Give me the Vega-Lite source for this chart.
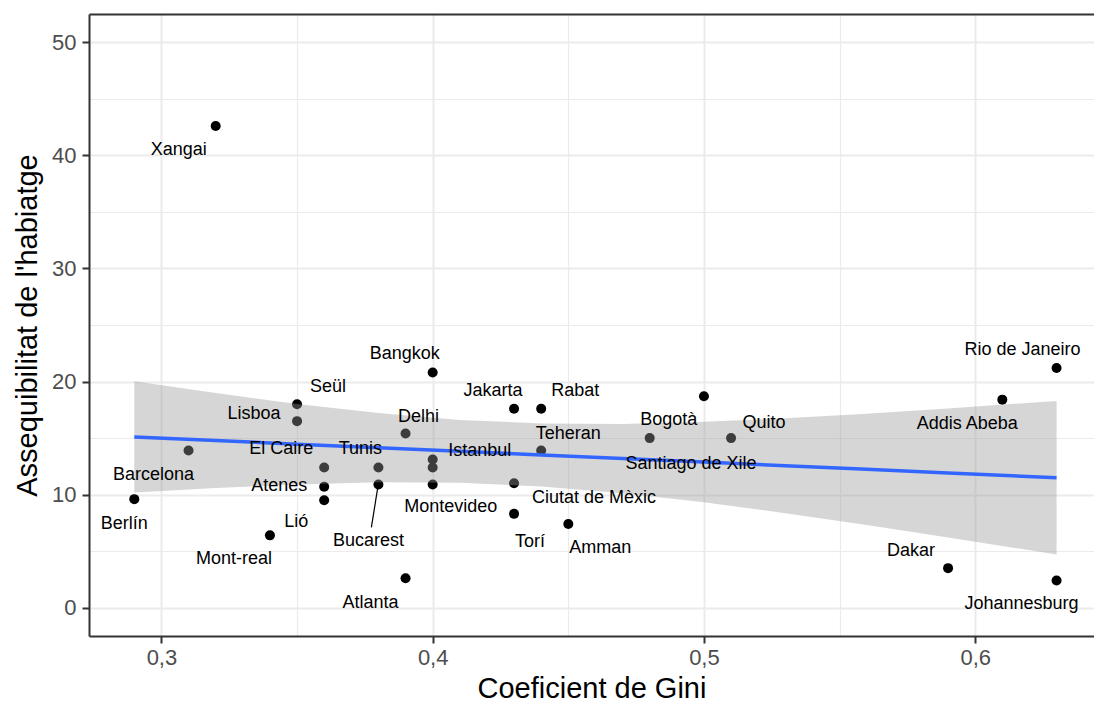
{
  "$schema": "https://vega.github.io/schema/vega-lite/v6.json",
  "width": 1005,
  "height": 622,
  "autosize": {"type": "none"},
  "padding": {"left": 89, "top": 14, "right": 0, "bottom": 75},
  "background": "white",
  "config": {
    "view": {"stroke": null},
    "text": {"font": "Liberation Sans", "fontSize": 18, "color": "#000000", "align": "center", "baseline": "middle"},
    "axis": {
      "labelFont": "Liberation Sans",
      "titleFont": "Liberation Sans",
      "titleFontWeight": "normal",
      "titleColor": "#000000",
      "labelColor": "#4D4D4D",
      "gridColor": "#EBEBEB",
      "domainColor": "#333333",
      "tickColor": "#333333"
    }
  },
  "datasets": {
    "cities": [
      {"city": "Xangai", "gini": 0.32, "hab": 42.6},
      {"city": "Berlín", "gini": 0.29, "hab": 9.6},
      {"city": "Barcelona", "gini": 0.31, "hab": 13.9},
      {"city": "Mont-real", "gini": 0.34, "hab": 6.4},
      {"city": "Seül", "gini": 0.35, "hab": 18.0},
      {"city": "Lisboa", "gini": 0.35, "hab": 16.5},
      {"city": "El Caire", "gini": 0.36, "hab": 12.4},
      {"city": "Atenes", "gini": 0.36, "hab": 10.7},
      {"city": "Lió", "gini": 0.36, "hab": 9.5},
      {"city": "Tunis", "gini": 0.38, "hab": 12.4},
      {"city": "Bucarest", "gini": 0.38, "hab": 10.9},
      {"city": "Atlanta", "gini": 0.39, "hab": 2.6},
      {"city": "Delhi", "gini": 0.39, "hab": 15.4},
      {"city": "Bangkok", "gini": 0.40, "hab": 20.8},
      {"city": "Istanbul", "gini": 0.40, "hab": 13.1},
      {"city": "", "gini": 0.40, "hab": 12.4},
      {"city": "Montevideo", "gini": 0.40, "hab": 10.9},
      {"city": "Jakarta", "gini": 0.43, "hab": 17.6},
      {"city": "Rabat", "gini": 0.44, "hab": 17.6},
      {"city": "Teheran", "gini": 0.44, "hab": 13.9},
      {"city": "Ciutat de Mèxic", "gini": 0.43, "hab": 11.0},
      {"city": "Torí", "gini": 0.43, "hab": 8.3},
      {"city": "Amman", "gini": 0.45, "hab": 7.4},
      {"city": "Bogotà", "gini": 0.48, "hab": 15.0},
      {"city": "Santiago de Xile", "gini": 0.50, "hab": 18.7},
      {"city": "Quito", "gini": 0.51, "hab": 15.0},
      {"city": "Addis Abeba", "gini": 0.61, "hab": 18.4},
      {"city": "Rio de Janeiro", "gini": 0.63, "hab": 21.2},
      {"city": "Dakar", "gini": 0.59, "hab": 3.5},
      {"city": "Johannesburg", "gini": 0.63, "hab": 2.4}
    ],
    "band": [
      {"gini": 0.29, "lo": 10.18, "hi": 20.02, "fit": 15.10},
      {"gini": 0.32, "lo": 10.58, "hi": 18.98, "fit": 14.78},
      {"gini": 0.35, "lo": 10.90, "hi": 18.02, "fit": 14.46},
      {"gini": 0.38, "lo": 11.09, "hi": 17.21, "fit": 14.15},
      {"gini": 0.41, "lo": 11.05, "hi": 16.61, "fit": 13.83},
      {"gini": 0.44, "lo": 10.73, "hi": 16.29, "fit": 13.51},
      {"gini": 0.47, "lo": 10.13, "hi": 16.25, "fit": 13.19},
      {"gini": 0.50, "lo": 9.32, "hi": 16.44, "fit": 12.88},
      {"gini": 0.53, "lo": 8.36, "hi": 16.76, "fit": 12.56},
      {"gini": 0.56, "lo": 7.32, "hi": 17.16, "fit": 12.24},
      {"gini": 0.59, "lo": 6.22, "hi": 17.62, "fit": 11.92},
      {"gini": 0.63, "lo": 4.71, "hi": 18.29, "fit": 11.50}
    ],
    "leader": [
      {"gini": 0.3774, "hab": 7.1, "gini2": 0.3797, "hab2": 10.55}
    ]
  },
  "layer": [
    {
      "data": {"name": "cities"},
      "mark": {"type": "circle", "size": 100, "color": "#000000", "opacity": 1},
      "encoding": {
        "x": {
          "field": "gini", "type": "quantitative",
          "scale": {"domain": [0.2733, 0.6438], "nice": false, "zero": false},
          "axis": {
            "orient": "bottom",
            "values": [0.3, 0.4, 0.5, 0.6],
            "labelExpr": "replace(format(datum.value, '.1f'), '.', ',')",
            "title": "Coeficient de Gini",
            "grid": true, "gridWidth": 2,
            "domainWidth": 2, "tickWidth": 2, "tickSize": 7,
            "labelFontSize": 22, "labelPadding": 4,
            "titleFontSize": 29, "titlePadding": 6
          }
        },
        "y": {
          "field": "hab", "type": "quantitative",
          "scale": {"domain": [-2.5, 52.5], "nice": false, "zero": false},
          "axis": {
            "orient": "left",
            "values": [0, 10, 20, 30, 40, 50],
            "title": "Assequibilitat de l'habiatge",
            "grid": true, "gridWidth": 2,
            "domainWidth": 2, "tickWidth": 2, "tickSize": 7,
            "labelFontSize": 22, "labelPadding": 6,
            "titleFontSize": 29, "titlePadding": 9
          }
        }
      }
    },
    {
      "data": {"name": "band"},
      "mark": {"type": "area", "color": "#999999", "opacity": 0.4},
      "encoding": {
        "x": {
          "field": "gini", "type": "quantitative",
          "axis": {
            "orient": "top", "values": [0.35, 0.45, 0.55],
            "labels": false, "ticks": false, "title": null,
            "grid": true, "gridWidth": 1.2,
            "domain": true, "domainWidth": 2
          }
        },
        "y": {
          "field": "lo", "type": "quantitative",
          "axis": {
            "orient": "right", "values": [5, 15, 25, 35, 45],
            "labels": false, "ticks": false, "title": null,
            "grid": true, "gridWidth": 1.2, "domain": false
          }
        },
        "y2": {"field": "hi"}
      }
    },
    {
      "data": {"name": "band"},
      "mark": {"type": "line", "color": "#3366FF", "strokeWidth": 3.5},
      "encoding": {
        "x": {"field": "gini", "type": "quantitative", "axis": null},
        "y": {"field": "fit", "type": "quantitative", "axis": null}
      }
    },
    {
      "data": {"name": "leader"},
      "mark": {"type": "rule", "color": "#000000", "strokeWidth": 1.2},
      "encoding": {
        "x": {"field": "gini", "type": "quantitative", "axis": null},
        "y": {"field": "hab", "type": "quantitative", "axis": null},
        "x2": {"field": "gini2"},
        "y2": {"field": "hab2"}
      }
    },
    {
      "data": {"name": "cities"},
      "encoding": {
        "x": {"field": "gini", "type": "quantitative", "axis": null},
        "y": {"field": "hab", "type": "quantitative", "axis": null},
        "text": {"field": "city"}
      },
      "layer": [
        {"transform": [{"filter": "datum.city === 'Xangai'"}], "mark": {"type": "text", "dx": -37, "dy": 24}},
        {"transform": [{"filter": "datum.city === 'Berlín'"}], "mark": {"type": "text", "dx": -10, "dy": 25}},
        {"transform": [{"filter": "datum.city === 'Barcelona'"}], "mark": {"type": "text", "dx": -35, "dy": 24}},
        {"transform": [{"filter": "datum.city === 'Mont-real'"}], "mark": {"type": "text", "dx": -36, "dy": 24}},
        {"transform": [{"filter": "datum.city === 'Lió'"}], "mark": {"type": "text", "dx": -28, "dy": 22}},
        {"transform": [{"filter": "datum.city === 'Seül'"}], "mark": {"type": "text", "dx": 31, "dy": -17}},
        {"transform": [{"filter": "datum.city === 'Lisboa'"}], "mark": {"type": "text", "dx": -43, "dy": -7}},
        {"transform": [{"filter": "datum.city === 'El Caire'"}], "mark": {"type": "text", "dx": -43, "dy": -18}},
        {"transform": [{"filter": "datum.city === 'Atenes'"}], "mark": {"type": "text", "dx": -45, "dy": -1}},
        {"transform": [{"filter": "datum.city === 'Tunis'"}], "mark": {"type": "text", "dx": -18, "dy": -18}},
        {"transform": [{"filter": "datum.city === 'Bucarest'"}], "mark": {"type": "text", "dx": -10, "dy": 57}},
        {"transform": [{"filter": "datum.city === 'Atlanta'"}], "mark": {"type": "text", "dx": -35, "dy": 25}},
        {"transform": [{"filter": "datum.city === 'Delhi'"}], "mark": {"type": "text", "dx": 13, "dy": -17}},
        {"transform": [{"filter": "datum.city === 'Bangkok'"}], "mark": {"type": "text", "dx": -28, "dy": -18}},
        {"transform": [{"filter": "datum.city === 'Istanbul'"}], "mark": {"type": "text", "dx": 47, "dy": -9}},
        {"transform": [{"filter": "datum.city === 'Montevideo'"}], "mark": {"type": "text", "dx": 18, "dy": 23}},
        {"transform": [{"filter": "datum.city === 'Jakarta'"}], "mark": {"type": "text", "dx": -21, "dy": -18}},
        {"transform": [{"filter": "datum.city === 'Rabat'"}], "mark": {"type": "text", "dx": 34, "dy": -18}},
        {"transform": [{"filter": "datum.city === 'Teheran'"}], "mark": {"type": "text", "dx": 27, "dy": -17}},
        {"transform": [{"filter": "datum.city === 'Ciutat de Mèxic'"}], "mark": {"type": "text", "dx": 80, "dy": 15}},
        {"transform": [{"filter": "datum.city === 'Torí'"}], "mark": {"type": "text", "dx": 16, "dy": 28}},
        {"transform": [{"filter": "datum.city === 'Amman'"}], "mark": {"type": "text", "dx": 32, "dy": 24}},
        {"transform": [{"filter": "datum.city === 'Bogotà'"}], "mark": {"type": "text", "dx": 19, "dy": -18}},
        {"transform": [{"filter": "datum.city === 'Quito'"}], "mark": {"type": "text", "dx": 33, "dy": -15}},
        {"transform": [{"filter": "datum.city === 'Santiago de Xile'"}], "mark": {"type": "text", "dx": -13, "dy": 68}},
        {"transform": [{"filter": "datum.city === 'Addis Abeba'"}], "mark": {"type": "text", "dx": -35, "dy": 24}},
        {"transform": [{"filter": "datum.city === 'Rio de Janeiro'"}], "mark": {"type": "text", "dx": -34, "dy": -18}},
        {"transform": [{"filter": "datum.city === 'Dakar'"}], "mark": {"type": "text", "dx": -37, "dy": -17}},
        {"transform": [{"filter": "datum.city === 'Johannesburg'"}], "mark": {"type": "text", "dx": -35, "dy": 23}}
      ]
    }
  ],
  "resolve": {"axis": {"x": "independent", "y": "independent"}}
}
